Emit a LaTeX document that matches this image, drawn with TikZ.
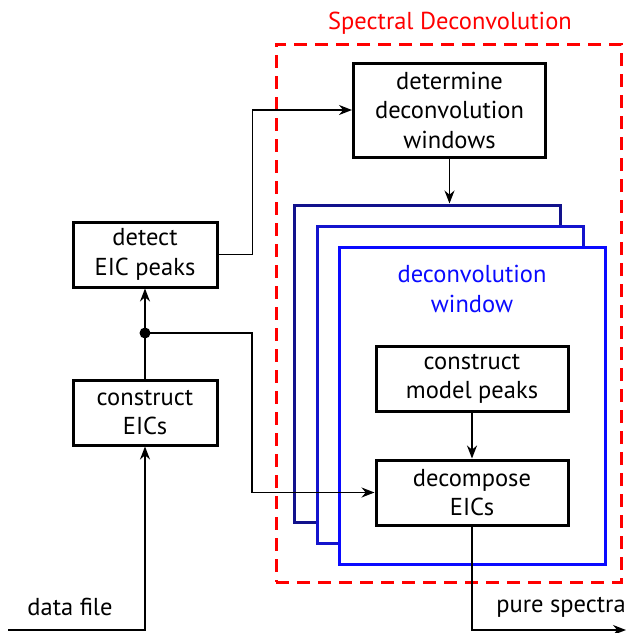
\documentclass[tikz,border=0pt]{standalone}
\usepackage{fontspec}
\setmainfont{PT Sans}
\usetikzlibrary{arrows.meta,positioning}
\definecolor{winA}{RGB}{18,18,140}
\definecolor{winB}{RGB}{20,20,205}
\definecolor{winC}{RGB}{10,10,255}
\tikzset{
  process/.style={rectangle, draw=black, line width=3pt, fill=white, align=center, minimum width=144pt, minimum height=65pt, inner sep=0pt, font=\fontsize{24.5}{29.5}\selectfont},
  wide/.style={process, minimum width=192pt},
  window/.style={rectangle, line width=3pt, fill=white, minimum width=266pt, minimum height=317pt},
  group/.style={rectangle, draw=red, dash pattern=on 13pt off 8pt, line width=3pt, minimum width=345pt, minimum height=538pt},
  label/.style={align=center, inner sep=0pt, font=\fontsize{24.5}{29.5}\selectfont},
  arrow/.style={line width=1.6pt, -{Stealth[length=13pt,width=10pt]}},
  wire/.style={line width=1.6pt}
}

\begin{document}
\begin{tikzpicture}[x=1pt,y=1pt]
\useasboundingbox (0,0) rectangle (626,-633);

% Spectral Deconvolution group
\node[group] (sd) at (448.5,-313) {};
\node[label, text=red] (sdtitle) at (450,-23) {Spectral Deconvolution};

% stacked deconvolution windows
\node[window, draw=winA] (winA) at (427,-363.5) {};
\node[window, draw=winB] (winB) at (450,-384.5) {};
\node[window, draw=winC] (winC) at (472,-405.5) {};
\node[label, text=winC] (wintext) at (472,-289) {deconvolution\\window};

% process boxes
\node[wide, minimum height=94pt] (determine) at (449.5,-110) {determine\\deconvolution\\windows};
\node[process] (detect) at (145,-254.5) {detect\\EIC peaks};
\node[process] (eics) at (145,-412.5) {construct\\EICs};
\node[wide] (model) at (472,-379) {construct\\model peaks};
\node[wide] (decompose) at (472,-492.5) {decompose\\EICs};

% in and out
\coordinate (split) at (145,-333);
\coordinate (datain) at (8,-630);
\coordinate (specout) at (626,-630);
\node[label] (datalabel) at (70,-607) {data file};
\node[label] (speclabel) at (561,-607) {pure spectra};

% connectors
\draw[arrow] (datain) -| (eics.south);
\draw[arrow] (eics.north) -- (detect.south);
\fill (split) circle (5.5pt);
\draw[arrow] (detect.east) -- ++(34,0) |- (determine.west);
\draw[arrow] (split) -- ++(107,0) |- (decompose.west);
\draw[arrow] (determine.south) -- (determine.south |- winA.north);
\draw[arrow] (model.south) -- (decompose.north);
\draw[arrow] (decompose.south) |- (specout);

\end{tikzpicture}
\end{document}
